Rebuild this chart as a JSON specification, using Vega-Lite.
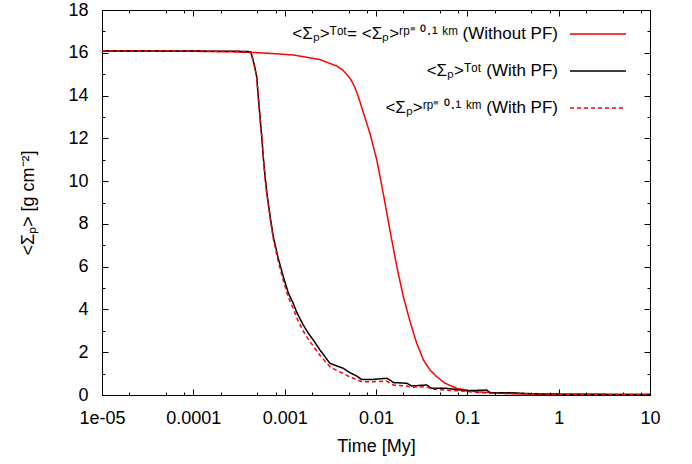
{
  "$schema": "https://vega.github.io/schema/vega-lite/v6.json",
  "width": 548,
  "height": 385,
  "autosize": {"type": "none"},
  "padding": {"left": 102, "top": 10, "right": 42, "bottom": 69},
  "background": "white",
  "config": {
    "view": {"stroke": "black", "strokeWidth": 1},
    "font": "Liberation Sans",
    "axis": {"grid": false, "domainColor": "black", "tickColor": "black", "labelColor": "black", "titleColor": "black", "labelFont": "Liberation Sans", "titleFont": "Liberation Sans", "labelFontSize": 18, "titleFontSize": 18, "titleFontWeight": "normal", "labelOverlap": false, "labelFlush": false, "labelBound": false}
  },
  "datasets": {
    "curves": [
      {"t": 0.00001, "s": 16.08, "series": "A"},
      {"t": 0.00003, "s": 16.08, "series": "A"},
      {"t": 0.0001, "s": 16.07, "series": "A"},
      {"t": 0.0003, "s": 16.04, "series": "A"},
      {"t": 0.00054, "s": 16.0, "series": "A"},
      {"t": 0.00124, "s": 15.9, "series": "A"},
      {"t": 0.00244, "s": 15.68, "series": "A"},
      {"t": 0.00371, "s": 15.38, "series": "A"},
      {"t": 0.0043, "s": 15.2, "series": "A"},
      {"t": 0.00478, "s": 15.0, "series": "A"},
      {"t": 0.0053, "s": 14.75, "series": "A"},
      {"t": 0.00585, "s": 14.4, "series": "A"},
      {"t": 0.0064, "s": 13.95, "series": "A"},
      {"t": 0.00727, "s": 13.2, "series": "A"},
      {"t": 0.00859, "s": 12.23, "series": "A"},
      {"t": 0.0102, "s": 10.99, "series": "A"},
      {"t": 0.012, "s": 9.43, "series": "A"},
      {"t": 0.0142, "s": 7.71, "series": "A"},
      {"t": 0.0169, "s": 6.0, "series": "A"},
      {"t": 0.0199, "s": 4.6, "series": "A"},
      {"t": 0.0236, "s": 3.43, "series": "A"},
      {"t": 0.0279, "s": 2.42, "series": "A"},
      {"t": 0.033, "s": 1.64, "series": "A"},
      {"t": 0.039, "s": 1.17, "series": "A"},
      {"t": 0.0462, "s": 0.86, "series": "A"},
      {"t": 0.057, "s": 0.55, "series": "A"},
      {"t": 0.0765, "s": 0.31, "series": "A"},
      {"t": 0.127, "s": 0.15, "series": "A"},
      {"t": 0.27, "s": 0.07, "series": "A"},
      {"t": 0.5, "s": 0.04, "series": "A"},
      {"t": 1, "s": 0.03, "series": "A"},
      {"t": 3, "s": 0.02, "series": "A"},
      {"t": 10, "s": 0.02, "series": "A"},
      {"t": 0.00001, "s": 16.08, "series": "B"},
      {"t": 0.0001, "s": 16.08, "series": "B"},
      {"t": 0.0003, "s": 16.07, "series": "B"},
      {"t": 0.000425, "s": 16.05, "series": "B"},
      {"t": 0.000461, "s": 15.5, "series": "B"},
      {"t": 0.000494, "s": 14.88, "series": "B"},
      {"t": 0.000514, "s": 13.95, "series": "B"},
      {"t": 0.000537, "s": 13.0, "series": "B"},
      {"t": 0.000561, "s": 12.08, "series": "B"},
      {"t": 0.000583, "s": 11.14, "series": "B"},
      {"t": 0.00061, "s": 10.2, "series": "B"},
      {"t": 0.000636, "s": 9.5, "series": "B"},
      {"t": 0.000662, "s": 8.96, "series": "B"},
      {"t": 0.000703, "s": 8.18, "series": "B"},
      {"t": 0.000751, "s": 7.4, "series": "B"},
      {"t": 0.000851, "s": 6.39, "series": "B"},
      {"t": 0.000966, "s": 5.53, "series": "B"},
      {"t": 0.0011, "s": 4.75, "series": "B"},
      {"t": 0.00124, "s": 4.29, "series": "B"},
      {"t": 0.00136, "s": 3.85, "series": "B"},
      {"t": 0.0016, "s": 3.27, "series": "B"},
      {"t": 0.00182, "s": 2.88, "series": "B"},
      {"t": 0.00206, "s": 2.57, "series": "B"},
      {"t": 0.00244, "s": 2.1, "series": "B"},
      {"t": 0.00313, "s": 1.48, "series": "B"},
      {"t": 0.00371, "s": 1.36, "series": "B"},
      {"t": 0.00438, "s": 1.25, "series": "B"},
      {"t": 0.00519, "s": 1.04, "series": "B"},
      {"t": 0.00615, "s": 0.89, "series": "B"},
      {"t": 0.00697, "s": 0.72, "series": "B"},
      {"t": 0.00935, "s": 0.73, "series": "B"},
      {"t": 0.0131, "s": 0.78, "series": "B"},
      {"t": 0.0142, "s": 0.7, "series": "B"},
      {"t": 0.0155, "s": 0.58, "series": "B"},
      {"t": 0.0217, "s": 0.55, "series": "B"},
      {"t": 0.0246, "s": 0.42, "series": "B"},
      {"t": 0.0359, "s": 0.47, "series": "B"},
      {"t": 0.0407, "s": 0.31, "series": "B"},
      {"t": 0.0594, "s": 0.31, "series": "B"},
      {"t": 0.0984, "s": 0.2, "series": "B"},
      {"t": 0.163, "s": 0.23, "series": "B"},
      {"t": 0.177, "s": 0.11, "series": "B"},
      {"t": 0.293, "s": 0.11, "series": "B"},
      {"t": 0.5, "s": 0.06, "series": "B"},
      {"t": 1, "s": 0.04, "series": "B"},
      {"t": 3, "s": 0.03, "series": "B"},
      {"t": 10, "s": 0.02, "series": "B"},
      {"t": 0.00001, "s": 16.08, "series": "C"},
      {"t": 0.0001, "s": 16.08, "series": "C"},
      {"t": 0.0003, "s": 16.07, "series": "C"},
      {"t": 0.000425, "s": 16.05, "series": "C"},
      {"t": 0.000461, "s": 15.5, "series": "C"},
      {"t": 0.000494, "s": 14.88, "series": "C"},
      {"t": 0.000514, "s": 13.95, "series": "C"},
      {"t": 0.000537, "s": 13.0, "series": "C"},
      {"t": 0.000561, "s": 12.08, "series": "C"},
      {"t": 0.000583, "s": 11.14, "series": "C"},
      {"t": 0.00061, "s": 10.2, "series": "C"},
      {"t": 0.000636, "s": 9.45, "series": "C"},
      {"t": 0.000662, "s": 8.9, "series": "C"},
      {"t": 0.000703, "s": 8.1, "series": "C"},
      {"t": 0.000751, "s": 7.3, "series": "C"},
      {"t": 0.000851, "s": 6.25, "series": "C"},
      {"t": 0.000966, "s": 5.35, "series": "C"},
      {"t": 0.0011, "s": 4.55, "series": "C"},
      {"t": 0.00124, "s": 4.05, "series": "C"},
      {"t": 0.00136, "s": 3.6, "series": "C"},
      {"t": 0.0016, "s": 2.98, "series": "C"},
      {"t": 0.00182, "s": 2.6, "series": "C"},
      {"t": 0.00206, "s": 2.28, "series": "C"},
      {"t": 0.00244, "s": 1.85, "series": "C"},
      {"t": 0.00313, "s": 1.32, "series": "C"},
      {"t": 0.00371, "s": 1.15, "series": "C"},
      {"t": 0.00438, "s": 1.01, "series": "C"},
      {"t": 0.00519, "s": 0.84, "series": "C"},
      {"t": 0.00615, "s": 0.72, "series": "C"},
      {"t": 0.00697, "s": 0.62, "series": "C"},
      {"t": 0.00935, "s": 0.62, "series": "C"},
      {"t": 0.0131, "s": 0.65, "series": "C"},
      {"t": 0.0142, "s": 0.56, "series": "C"},
      {"t": 0.0155, "s": 0.47, "series": "C"},
      {"t": 0.0217, "s": 0.42, "series": "C"},
      {"t": 0.0246, "s": 0.36, "series": "C"},
      {"t": 0.0359, "s": 0.39, "series": "C"},
      {"t": 0.0407, "s": 0.27, "series": "C"},
      {"t": 0.0765, "s": 0.2, "series": "C"},
      {"t": 0.177, "s": 0.08, "series": "C"},
      {"t": 0.293, "s": 0.07, "series": "C"},
      {"t": 0.5, "s": 0.05, "series": "C"},
      {"t": 1, "s": 0.03, "series": "C"},
      {"t": 3, "s": 0.02, "series": "C"},
      {"t": 10, "s": 0.02, "series": "C"}
    ],
    "names": [
      {"series": "A", "label": "<Σₚ>ᵀᵒᵗ= <Σₚ>ʳᵖ⁼ ⁰·¹ ᵏᵐ (Without PF)"},
      {"series": "B", "label": "<Σₚ>ᵀᵒᵗ (With PF)"},
      {"series": "C", "label": "<Σₚ>ʳᵖ⁼ ⁰·¹ ᵏᵐ (With PF)"}
    ]
  },
  "data": {"name": "curves"},
  "transform": [
    {"lookup": "series", "from": {"data": {"name": "names"}, "key": "series", "fields": ["label"]}}
  ],
  "layer": [
    {
      "mark": {"type": "line", "strokeWidth": 1.5, "clip": true},
      "encoding": {
        "x": {
          "field": "t", "type": "quantitative",
          "scale": {"type": "log", "domain": [0.00001, 10], "nice": false},
          "axis": {
            "orient": "bottom",
            "title": "Time [My]",
            "values": [0.00001, 0.00002, 0.00005, 0.00008, 0.0001, 0.0002, 0.0005, 0.0008, 0.001, 0.002, 0.005, 0.008, 0.01, 0.02, 0.05, 0.08, 0.1, 0.2, 0.5, 0.8, 1, 2, 5, 8, 10],
            "labelExpr": "abs(log(datum.value)/LN10 - round(log(datum.value)/LN10)) > 0.001 ? '' : datum.value < 0.00005 ? '1e-05' : datum.value < 0.0005 ? '0.0001' : datum.value < 0.005 ? '0.001' : datum.value < 0.05 ? '0.01' : datum.value < 0.5 ? '0.1' : datum.value < 5 ? '1' : '10'",
            "tickSize": {"condition": {"test": "abs(log(datum.value)/LN10 - round(log(datum.value)/LN10)) < 0.001", "value": -6}, "value": -3},
            "labelPadding": 20,
            "titlePadding": 7
          }
        },
        "y": {
          "field": "s", "type": "quantitative",
          "scale": {"domain": [0, 18], "nice": false},
          "axis": {
            "orient": "left",
            "title": "<Σₚ> [g cm⁻²]",
            "values": [0, 1, 2, 3, 4, 5, 6, 7, 8, 9, 10, 11, 12, 13, 14, 15, 16, 17, 18],
            "labelExpr": "datum.value % 2 == 0 ? datum.label : ''",
            "tickSize": {"condition": {"test": "datum.value % 2 == 0", "value": -6}, "value": -3},
            "labelPadding": 20,
            "titlePadding": 30
          }
        },
        "color": {
          "field": "label", "type": "nominal",
          "scale": {"domain": ["<Σₚ>ᵀᵒᵗ= <Σₚ>ʳᵖ⁼ ⁰·¹ ᵏᵐ (Without PF)", "<Σₚ>ᵀᵒᵗ (With PF)", "<Σₚ>ʳᵖ⁼ ⁰·¹ ᵏᵐ (With PF)"], "range": ["#ff0000", "#000000", "#ff0000"]},
          "legend": {
            "orient": "none", "legendX": 467, "legendY": -5, "title": null,
            "symbolType": "stroke", "symbolSize": 3136, "symbolStrokeWidth": 1.5,
            "labelAlign": "right", "labelOffset": -69, "labelLimit": 0,
            "labelFont": "Liberation Sans", "labelFontSize": 17, "labelColor": "black",
            "rowPadding": -19.3, "padding": 0
          }
        },
        "strokeDash": {
          "field": "label", "type": "nominal",
          "scale": {"domain": ["<Σₚ>ᵀᵒᵗ= <Σₚ>ʳᵖ⁼ ⁰·¹ ᵏᵐ (Without PF)", "<Σₚ>ᵀᵒᵗ (With PF)", "<Σₚ>ʳᵖ⁼ ⁰·¹ ᵏᵐ (With PF)"], "range": [[1, 0], [1, 0], [4, 3]]},
          "legend": {
            "orient": "none", "legendX": 467, "legendY": -5, "title": null,
            "symbolType": "stroke", "symbolSize": 3136, "symbolStrokeWidth": 1.5,
            "labelAlign": "right", "labelOffset": -69, "labelLimit": 0,
            "labelFont": "Liberation Sans", "labelFontSize": 17, "labelColor": "black",
            "rowPadding": -19.3, "padding": 0
          }
        }
      }
    },
    {
      "mark": {"type": "line", "strokeOpacity": 0},
      "encoding": {
        "x": {
          "field": "t", "type": "quantitative",
          "axis": {
            "orient": "top", "title": null, "labels": false,
            "values": [0.00001, 0.00002, 0.00005, 0.00008, 0.0001, 0.0002, 0.0005, 0.0008, 0.001, 0.002, 0.005, 0.008, 0.01, 0.02, 0.05, 0.08, 0.1, 0.2, 0.5, 0.8, 1, 2, 5, 8, 10],
            "tickSize": {"condition": {"test": "abs(log(datum.value)/LN10 - round(log(datum.value)/LN10)) < 0.001", "value": -6}, "value": -3}
          }
        },
        "y": {
          "field": "s", "type": "quantitative",
          "axis": {
            "orient": "right", "title": null, "labels": false,
            "values": [0, 1, 2, 3, 4, 5, 6, 7, 8, 9, 10, 11, 12, 13, 14, 15, 16, 17, 18],
            "tickSize": {"condition": {"test": "datum.value % 2 == 0", "value": -6}, "value": -3}
          }
        }
      }
    }
  ],
  "resolve": {"axis": {"x": "independent", "y": "independent"}}
}
